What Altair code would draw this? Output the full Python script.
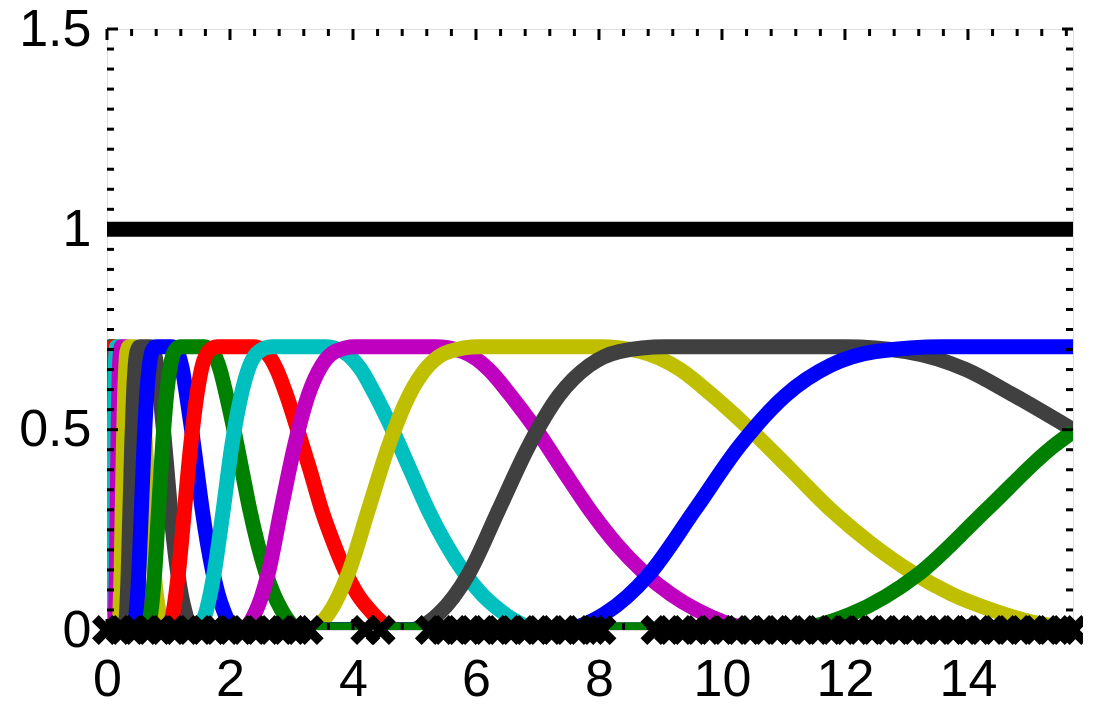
import altair as alt
import pandas as pd

XMAX = 15.708
W, H = 966, 601

# ---- curves (drawn in this order; later ones on top) ----
Y_SMALL = [0, 0, .14, .46, .66, .707, .707, .65, .50, .30, .145, .05, 0, 0]
C01 = ("#0000FF", [0, 0.025, 0.03, 0.035, 0.04, 0.046, 0.061, 0.071, 0.08, 0.09, 0.1, 0.11, 0.121, XMAX], Y_SMALL)
C02 = ("#008000", [0, 0.038, 0.046, 0.053, 0.061, 0.07, 0.093, 0.108, 0.122, 0.137, 0.152, 0.167, 0.184, XMAX], Y_SMALL)
C03 = ("#FF0000", [0, 0.057, 0.068, 0.08, 0.091, 0.105, 0.14, 0.162, 0.182, 0.205, 0.228, 0.251, 0.276, XMAX], Y_SMALL)
C04 = ("#00BFBF", [0, 0.085, 0.102, 0.119, 0.136, 0.157, 0.208, 0.242, 0.272, 0.306, 0.34, 0.374, 0.412, XMAX], Y_SMALL)
C05 = ("#BF00BF", [0, 0.127, 0.152, 0.178, 0.203, 0.235, 0.311, 0.362, 0.406, 0.457, 0.508, 0.559, 0.616, XMAX], Y_SMALL)

Y_FULL = [0, 0, .04, .14, .30, .46, .585, .66, .695, .707, .707, .695, .65, .59, .50, .40, .30, .215, .145,
          .09, .05, .02, 0, 0]

C06 = ("#BFBF00", [0, 0.191, 0.21, 0.229, 0.248, 0.267, 0.287, 0.306, 0.325, 0.353, 0.468, 0.506, 0.544,
                   0.573, 0.611, 0.649, 0.688, 0.726, 0.764, 0.802, 0.84, 0.879, 0.926, XMAX], Y_FULL)
C07 = ("#404040", [0, 0.287, 0.316, 0.344, 0.373, 0.402, 0.431, 0.459, 0.488, 0.531, 0.703, 0.761, 0.818,
                   0.861, 0.918, 0.976, 1.033, 1.091, 1.148, 1.205, 1.263, 1.32, 1.392, XMAX], Y_FULL)
C08 = ("#0000FF", [0, 0.43, 0.473, 0.516, 0.559, 0.602, 0.645, 0.688, 0.731, 0.796, 1.054, 1.14, 1.226,
                   1.29, 1.376, 1.462, 1.548, 1.634, 1.72, 1.806, 1.892, 1.978, 2.086, XMAX], Y_FULL)
C09 = ("#008000", [0, 0.645, 0.71, 0.774, 0.839, 0.903, 0.968, 1.032, 1.097, 1.193, 1.58, 1.709, 1.838,
                   1.935, 2.064, 2.193, 2.322, 2.451, 2.58, 2.709, 2.838, 2.967, 3.128, XMAX], Y_FULL)
C10 = ("#FF0000", [0, 0.97, 1.07, 1.16, 1.26, 1.36, 1.46, 1.55, 1.65, 1.79, 2.38, 2.57, 2.76,
                   2.91, 3.1, 3.3, 3.49, 3.69, 3.88, 4.07, 4.27, 4.46, 4.705, XMAX], Y_FULL)
C11 = ("#00BFBF", [0, 1.45, 1.6, 1.74, 1.89, 2.03, 2.18, 2.32, 2.47, 2.68, 3.55, 3.84, 4.13,
                   4.35, 4.64, 4.93, 5.22, 5.51, 5.8, 6.09, 6.38, 6.67, 7.033, XMAX], Y_FULL)
C12 = ("#BF00BF", [0, 2.18, 2.4, 2.62, 2.83, 3.05, 3.27, 3.49, 3.71, 4.03, 5.34, 5.78, 6.21,
                   6.54, 6.98, 7.41, 7.85, 8.28, 8.72, 9.16, 9.59, 10.03, 10.573, XMAX], Y_FULL)
C13 = ("#BFBF00", [0, 3.27, 3.6, 3.92, 4.25, 4.58, 4.91, 5.23, 5.56, 6.05, 8.01, 8.67, 9.32,
                   9.81, 10.46, 11.12, 11.77, 12.43, 13.08, 13.73, 14.39, 15.04, XMAX],
       [0, 0, .04, .14, .30, .46, .585, .66, .695, .707, .707, .695, .65, .59, .50, .40, .30, .215, .145,
        .09, .05, .02, .004])
C14 = ("#404040", [0, 4.9, 5.39, 5.88, 6.37, 6.86, 7.35, 7.84, 8.33, 9.07, 12.0, 12.99, 13.97, 14.7, XMAX],
       [0, 0, .04, .14, .30, .46, .585, .66, .695, .707, .707, .695, .65, .59, .50])
C15 = ("#0000FF", [0, 7.35, 8.09, 8.82, 9.56, 10.29, 11.03, 11.76, 12.5, 13.6, XMAX],
       [0, 0, .04, .14, .30, .46, .585, .66, .695, .707, .707])
C16 = ("#008000", [0, 11.0, 12.1, 13.2, 14.3, 15.4, XMAX],
       [0, 0, .04, .14, .30, .46, .495])

CURVES = [C01, C02, C03, C04, C05, C06, C07, C08, C09, C10, C11, C12, C13, C14, C15, C16]

SUM_X = [0, XMAX]
SUM_Y = [1.0, 1.0]

MARK_X = [0.0, 0.22, 0.44, 0.66, 0.88, 1.1, 1.32, 1.54, 1.76, 1.98, 2.2, 2.42, 2.64, 2.86, 3.08, 3.28,
          4.2, 4.45,
          5.25, 5.47, 5.69, 5.91, 6.13, 6.35, 6.57, 6.79, 7.01, 7.23, 7.45, 7.67, 7.89, 8.04,
          8.92, 9.14, 9.36, 9.58, 9.8, 10.02, 10.24, 10.46, 10.68, 10.9, 11.12, 11.34, 11.56, 11.78,
          12.0, 12.22, 12.44, 12.66, 12.88, 13.1, 13.32, 13.54, 13.76, 13.98, 14.2, 14.42, 14.64,
          14.86, 15.08, 15.3, 15.52, 15.708]

X_LABELS = [0, 2, 4, 6, 8, 10, 12, 14]
Y_LABELS = [0, 0.5, 1, 1.5]
X_MINOR = [round(0.4 * i, 2) for i in range(40)]
Y_MINOR = [round(0.05 * i, 2) for i in range(31)]

xs = alt.Scale(domain=[0, XMAX], nice=False, zero=False)
ys = alt.Scale(domain=[0, 1.5], nice=False)

FONT = "Liberation Sans"
FS = 52

layers = []
for i, (col, cx, cy) in enumerate(CURVES):
    df = pd.DataFrame({"x": cx, "y": cy})
    layers.append(
        alt.Chart(df).mark_line(color=col, strokeWidth=15, clip=True, interpolate="monotone")
        .encode(x=alt.X("x:Q", scale=xs), y=alt.Y("y:Q", scale=ys))
    )

sum_df = pd.DataFrame({"x": SUM_X, "y": SUM_Y})
layers.append(
    alt.Chart(sum_df).mark_line(color="black", strokeWidth=15, clip=True)
    .encode(x=alt.X("x:Q", scale=xs), y=alt.Y("y:Q", scale=ys))
)

XPATH = "M-1,-0.55L-0.55,-1L0,-0.45L0.55,-1L1,-0.55L0.45,0L1,0.55L0.55,1L0,0.45L-0.55,1L-1,0.55L-0.45,0Z"
mk_df = pd.DataFrame({"x": MARK_X, "y": [0.0] * len(MARK_X)})
layers.append(
    alt.Chart(mk_df).mark_point(shape=XPATH, filled=True, size=900, color="black", opacity=1, strokeWidth=0)
    .encode(x=alt.X("x:Q", scale=xs), y=alt.Y("y:Q", scale=ys))
)

# ticks (inward)
xt_df = pd.DataFrame({"x": X_MINOR, "major": [1 if abs(v / 2 - round(v / 2)) < 1e-6 else 0 for v in X_MINOR]})
yt_df = pd.DataFrame({"y": Y_MINOR, "major": [1 if abs(v / 0.5 - round(v / 0.5)) < 1e-6 else 0 for v in Y_MINOR]})

for major, ln in [(0, 7), (1, 11)]:
    d = xt_df[xt_df.major == major]
    layers.append(alt.Chart(d).mark_rule(color="black", strokeWidth=3)
                  .encode(x=alt.X("x:Q", scale=xs), y=alt.value(0), y2=alt.value(ln)))
    layers.append(alt.Chart(d).mark_rule(color="black", strokeWidth=3)
                  .encode(x=alt.X("x:Q", scale=xs), y=alt.value(H), y2=alt.value(H - ln)))
    d2 = yt_df[yt_df.major == major]
    layers.append(alt.Chart(d2).mark_rule(color="black", strokeWidth=3)
                  .encode(y=alt.Y("y:Q", scale=ys), x=alt.value(0), x2=alt.value(ln)))
    layers.append(alt.Chart(d2).mark_rule(color="black", strokeWidth=3)
                  .encode(y=alt.Y("y:Q", scale=ys), x=alt.value(W), x2=alt.value(W - ln)))

chart = alt.layer(*layers).encode(
    x=alt.X("x:Q", scale=xs, axis=alt.Axis(values=X_LABELS, format="d", title=None, ticks=False, domain=False,
                                            grid=False, labelFontSize=FS, labelFont=FONT, labelColor="black",
                                            labelPadding=24, labelFlush=False)),
    y=alt.Y("y:Q", scale=ys, axis=alt.Axis(values=Y_LABELS, format="~g", title=None, ticks=False, domain=False,
                                            grid=False, labelFontSize=FS, labelFont=FONT, labelColor="black",
                                            labelPadding=16, labelFlush=False)),
).properties(
    width=W, height=H,
    autosize=alt.AutoSizeParams(type="none"),
    padding={"left": 99, "top": 21, "right": 10, "bottom": 75},
).configure_view(stroke="black", strokeWidth=3).configure(background="white")

chart.save("out.html", embed_options={"renderer": "svg", "actions": False})
